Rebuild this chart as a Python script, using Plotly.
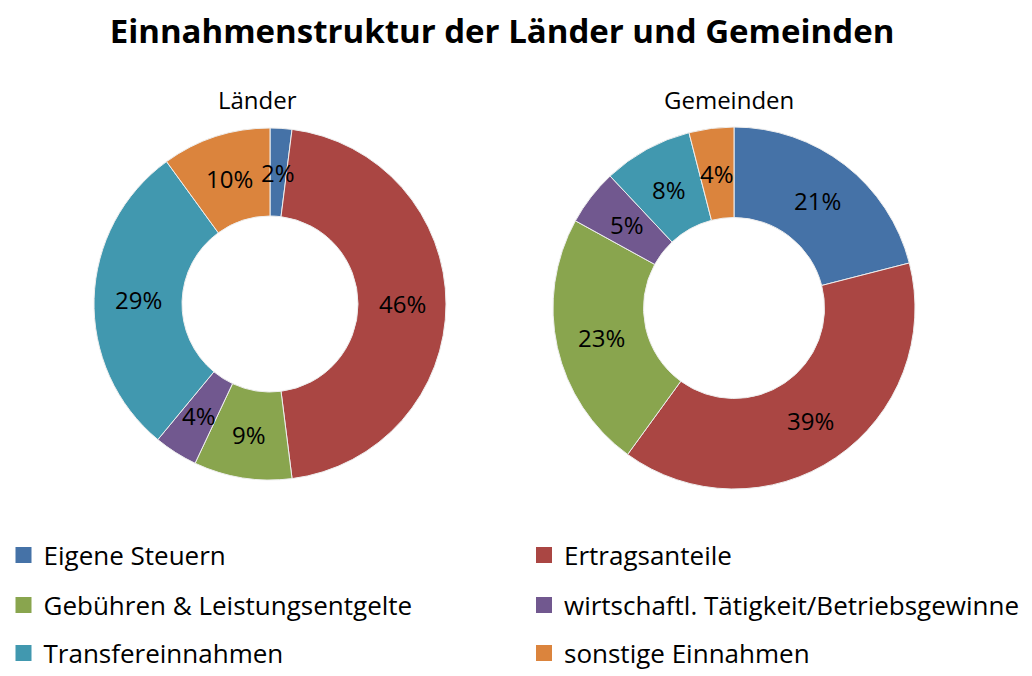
import math
import plotly.graph_objects as go

categories = ["Eigene Steuern", "Ertragsanteile", "Gebühren & Leistungsentgelte",
              "wirtschaftl. Tätigkeit/Betriebsgewinne", "Transfereinnahmen", "sonstige Einnahmen"]
laender = [2, 46, 9, 4, 29, 10]
gemeinden = [21, 39, 23, 5, 8, 4]
colors = ["#4572A7", "#AA4643", "#89A54E", "#71588F", "#4198AF", "#DB843D"]

FONT = "Open Sans"
# the page body has an 8px margin; size the figure so the page fits the window
OFF = 8
W, H = 1032 - OFF, 676 - OFF
HOLE = 0.5


def px(x):  # screen x -> paper fraction
    return (x - OFF) / W


def py(y):  # screen y -> paper fraction
    return 1 - (y - OFF) / H


fig = go.Figure()
annotations = []

pies = [
    (laender, "Länder", 270, 304, 176, 257),
    (gemeinden, "Gemeinden", 734, 308, 181, 729),
]
for vals, name, cx, cy, r, tx in pies:
    fig.add_trace(go.Pie(
        labels=categories, values=vals, name=name,
        hole=HOLE, sort=False, direction="clockwise", rotation=0,
        marker=dict(colors=colors, line=dict(color="#eeeeee", width=1)),
        textinfo="none",
        showlegend=False, hoverinfo="label+value",
        domain=dict(x=[px(cx - r), px(cx + r)], y=[py(cy + r), py(cy - r)]),
    ))
    # percentage labels at the middle of the ring, at each slice's mid-angle
    total = sum(vals)
    cum = 0
    rm = r * (1 + HOLE) / 2
    for v in vals:
        mid = (cum + v / 2) / total * 2 * math.pi
        cum += v
        x = cx + rm * math.sin(mid)
        y = cy - rm * math.cos(mid)
        annotations.append(dict(text=f"{v}%", x=px(x), y=py(y), xref="paper", yref="paper",
                                showarrow=False, xanchor="center", yanchor="middle",
                                font=dict(family=FONT, size=24, color="black")))
    annotations.append(dict(text=name, x=px(tx), y=py(100), xref="paper", yref="paper",
                            showarrow=False, xanchor="center", yanchor="middle",
                            font=dict(family=FONT, size=24, color="black")))

# legend entries: three rows of two, one small legend per entry
leg_x = [3.5, 524]
leg_y = [555, 605, 653]
legend_layout = {}
for i, (cat, col) in enumerate(zip(categories, colors)):
    key = "legend" if i == 0 else f"legend{i + 1}"
    fig.add_trace(go.Scatter(
        x=[None], y=[None], mode="markers", name=cat,
        marker=dict(symbol="square", size=16, color=col),
        legend=key, showlegend=True, hoverinfo="skip",
    ))
    legend_layout[key] = dict(
        orientation="h", x=px(leg_x[i % 2]), y=py(leg_y[i // 2]),
        xanchor="left", yanchor="middle",
        font=dict(family=FONT, size=26, color="black"),
        bgcolor="rgba(0,0,0,0)", itemclick=False, itemdoubleclick=False,
    )

fig.update_layout(
    width=W, height=H,
    margin=dict(l=0, r=0, t=0, b=0, autoexpand=False),
    paper_bgcolor="white", plot_bgcolor="white",
    title=dict(text="<b>Einnahmenstruktur der Länder und Gemeinden</b>",
               x=px(502), xanchor="center", y=py(31), yanchor="middle",
               font=dict(family=FONT, size=33, color="black")),
    xaxis=dict(visible=False), yaxis=dict(visible=False),
    annotations=annotations,
    **legend_layout,
)

fig.write_html("out.html")
